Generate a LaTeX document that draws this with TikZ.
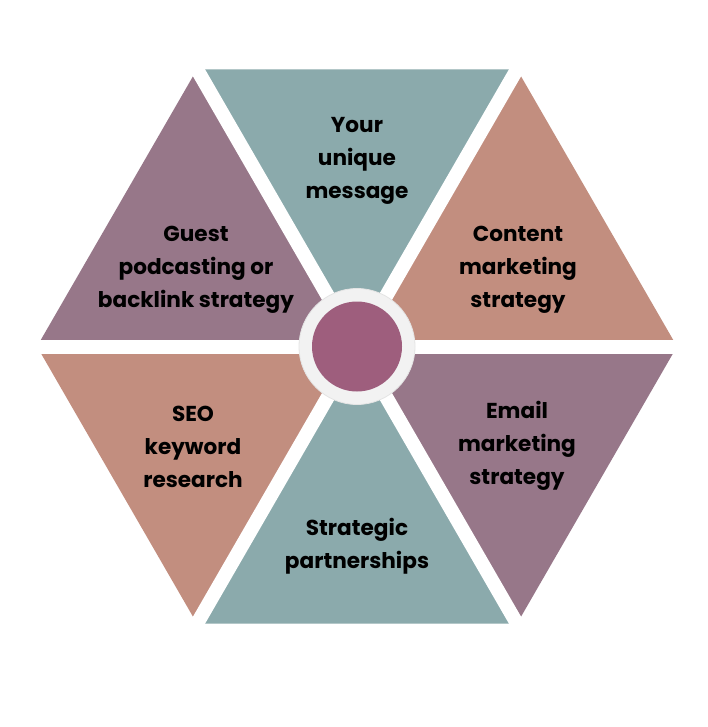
\documentclass[tikz,border=0pt]{standalone}
\usepackage{fontspec}
\setmainfont{Poppins}
\definecolor{tealc}{HTML}{8BAAAC}
\definecolor{mauvec}{HTML}{977789}
\definecolor{salmonc}{HTML}{C28E7F}
\definecolor{centerc}{HTML}{9E5E7D}
\definecolor{ringc}{HTML}{F2F2F2}
\definecolor{ringline}{HTML}{E4E4E4}
\begin{document}
\begin{tikzpicture}[x=1pt,y=1pt,
  lbl/.style={align=center,font=\fontsize{21.6}{33}\selectfont\bfseries,text=black,inner sep=0pt}]
\useasboundingbox (0,-727) rectangle (708,0);
\fill[white] (0,-727) rectangle (708,0);
\begin{scope}[shift={(357,-346.5)}]
  \coordinate (O) at (0,0);
  \fill[salmonc] (O) -- (0:320) -- (60:320) -- cycle;
  \fill[tealc] (O) -- (60:320) -- (120:320) -- cycle;
  \fill[mauvec] (O) -- (120:320) -- (180:320) -- cycle;
  \fill[salmonc] (O) -- (180:320) -- (240:320) -- cycle;
  \fill[tealc] (O) -- (240:320) -- (300:320) -- cycle;
  \fill[mauvec] (O) -- (300:320) -- (360:320) -- cycle;
  \draw[white,line width=14pt] (0:340) -- (180:340);
  \draw[white,line width=14pt] (60:340) -- (240:340);
  \draw[white,line width=14pt] (120:340) -- (300:340);
  \node[circle,fill=ringc,draw=ringline,line width=0.8pt,minimum size=116pt,inner sep=0pt] (ring) at (O) {};
  \node[circle,fill=centerc,minimum size=90pt,inner sep=0pt] (hub) at (O) {};
\end{scope}
\node[lbl] (t1) at (357,-161) {Your\\unique\\message};
\node[lbl] (t2) at (518,-270) {Content\\marketing\\strategy};
\node[lbl] (t3) at (517,-446) {Email\\marketing\\strategy};
\node[lbl] (t4) at (357,-546) {Strategic\\partnerships};
\node[lbl] (t5) at (193,-447) {SEO\\keyword\\research};
\node[lbl] (t6) at (196,-270) {Guest\\podcasting or\\backlink strategy};
\end{tikzpicture}
\end{document}
